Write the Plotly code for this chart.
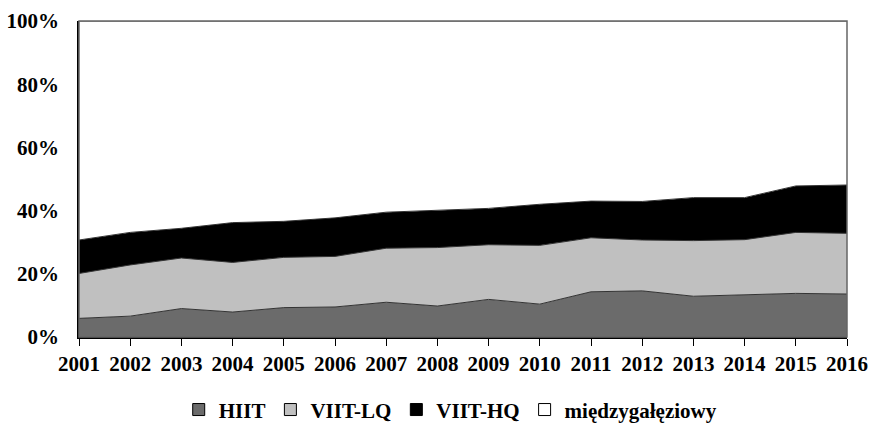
import plotly.graph_objects as go

years = list(range(2001, 2017))
# cumulative tops (percent)
hiit_top = [5.9, 6.6, 9.0, 7.9, 9.3, 9.5, 11.0, 9.8, 11.9, 10.4, 14.3, 14.6, 12.9, 13.3, 13.8, 13.6]
lq_top = [20.1, 22.8, 25.0, 23.6, 25.2, 25.5, 28.1, 28.3, 29.2, 29.0, 31.4, 30.7, 30.5, 30.8, 33.1, 32.8]
hq_top = [30.7, 33.1, 34.4, 36.2, 36.6, 37.7, 39.5, 40.2, 40.7, 42.0, 43.0, 42.9, 44.1, 44.1, 47.8, 48.1]

hiit = hiit_top
viit_lq = [round(b - a, 2) for a, b in zip(hiit_top, lq_top)]
viit_hq = [round(c - b, 2) for b, c in zip(lq_top, hq_top)]
inter = [round(100 - c, 2) for c in hq_top]

series = [
    ("HIIT", hiit, "#6b6b6b"),
    ("VIIT-LQ", viit_lq, "#c0c0c0"),
    ("VIIT-HQ", viit_hq, "#000000"),
    ("międzygałęziowy", inter, "#ffffff"),
]

FAM = "Liberation Serif, Times New Roman, serif"

fig = go.Figure()
for name, vals, col in series:
    fig.add_trace(go.Scatter(
        x=years, y=vals, name=name, stackgroup="one", mode="lines",
        line=dict(color="#333333", width=1), fillcolor=col, showlegend=False,
    ))
# legend entries as square markers
for name, vals, col in series:
    fig.add_trace(go.Scatter(
        x=[None], y=[None], name=name, mode="markers",
        marker=dict(symbol="square", size=12, color=col, line=dict(color="#000000", width=1)),
        showlegend=True,
    ))

fig.update_layout(
    width=870, height=423,
    margin=dict(l=79, r=23, t=21, b=86),
    paper_bgcolor="white", plot_bgcolor="white",
    font=dict(family=FAM, size=21, color="#000000", weight="bold"),
    showlegend=True,
    legend=dict(orientation="h", x=0.484, xanchor="center", xref="paper",
                yref="container", y=0.031, yanchor="middle",
                font=dict(family=FAM, size=21, weight="bold", color="#000000"),
                itemwidth=30, tracegroupgap=0, traceorder="normal"),
    xaxis=dict(range=[2001, 2016], tickmode="array", tickvals=years, ticktext=[str(y) for y in years],
               showgrid=False, zeroline=False, showline=True, linecolor="#000000", linewidth=1.5,
               ticks="outside", ticklen=7, tickcolor="#000000", automargin=False),
    yaxis=dict(range=[0, 100], tickmode="array", tickvals=[0, 20, 40, 60, 80, 100],
               ticktext=["0%", "20%", "40%", "60%", "80%", "100%"],
               showgrid=False, zeroline=False, showline=True, linecolor="#000000", linewidth=1.5,
               ticks="", ticklabelstandoff=14, automargin=False),
    shapes=[dict(type="rect", xref="paper", yref="paper", x0=0, y0=0, x1=1, y1=1,
                 line=dict(color="#666666", width=1.5), fillcolor="rgba(0,0,0,0)", layer="above")],
)

fig.write_html("out.html", config={"displayModeBar": False},
               post_script="document.body.style.margin='0';document.body.style.overflow='hidden';")
